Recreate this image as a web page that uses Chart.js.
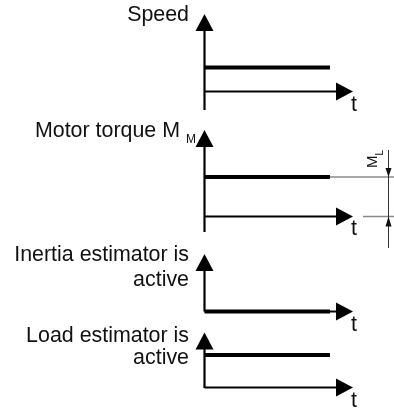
<!DOCTYPE html>
<html>
<head>
<meta charset="utf-8">
<title>Estimator activity</title>
<script src="https://cdn.jsdelivr.net/npm/chart.js@4.4.1/dist/chart.umd.min.js"></script>
<style>
  body { margin: 0; background: #fff; }
  #wrap {
    position: relative; width: 394px; height: 409px; overflow: hidden;
    font-family: "Liberation Sans", Arial, sans-serif; color: #111;
  }
  #wrap canvas { position: absolute; left: 0; top: 0; }
  .lbl { position: absolute; font-size: 21.4px; line-height: 21px; white-space: nowrap; }
  .rt { right: 205px; text-align: right; }
  .t { left: 351px; }
  .sub { font-size: 12px; margin-left: 6px; position: relative; top: 6px; }
  #ml {
    position: absolute; left: 364px; top: 168px; font-size: 15px; line-height: 15px;
    white-space: nowrap; transform-origin: 0 0; transform: rotate(-90deg);
  }
  #ml span { font-size: 10px; position: relative; top: 6px; }
</style>
</head>
<body>

<div id="wrap">
  <canvas id="chart" width="394" height="409"></canvas>

  <!-- panel titles -->
  <div class="lbl rt" style="top:4px">Speed</div>
  <div class="lbl" style="top:120px; right:198px">Motor torque M<span class="sub">M</span></div>
  <div class="lbl rt" style="top:244px">Inertia estimator is</div>
  <div class="lbl rt" style="top:269px">active</div>
  <div class="lbl rt" style="top:325px">Load estimator is</div>
  <div class="lbl rt" style="top:347px">active</div>

  <!-- time axis names -->
  <div class="lbl t" style="top:94px">t</div>
  <div class="lbl t" style="top:218px">t</div>
  <div class="lbl t" style="top:314px">t</div>
  <div class="lbl t" style="top:390px">t</div>

  <div id="ml">M<span>L</span></div>
</div>

<script>
// ===============================
// Signal traces (normalised levels)
// ===============================
const timePoints = [0, 10];
const speedTrace = [1, 1];
const torqueTrace = [1, 1];    // motor torque sits at the load torque M_L
const inertiaTrace = [0, 0];   // inertia estimator stays off
const loadTrace = [1, 1];      // load estimator stays on

// ===============================
// Layout of the four stacked panels
// ===============================
const W = 394, H = 409;
const axisX = 204.5, arrowTipX = 353;
const headLen = 17, headHalf = 9;

const panels = [
  { axis: 'ySpeed',   data: speedTrace,   zeroY: 91.5,  oneY: 67.5,  topY: 14,    bottomY: 110 },
  { axis: 'yTorque',  data: torqueTrace,  zeroY: 216.5, oneY: 177,   topY: 130,   bottomY: 232 },
  { axis: 'yInertia', data: inertiaTrace, zeroY: 311.5, oneY: 287,   topY: 254,   bottomY: 311.5 },
  { axis: 'yLoad',    data: loadTrace,    zeroY: 387.5, oneY: 355,   topY: 332.5, bottomY: 388 }
];

const scales = {
  x: { type: 'linear', display: false, min: 0, max: 10 * (arrowTipX - axisX) / (330 - axisX) }
};
panels.forEach(p => {
  const unit = p.zeroY - p.oneY;
  scales[p.axis] = {
    type: 'linear', display: false, position: 'left',
    min: -(H - p.zeroY) / unit, max: p.zeroY / unit
  };
});

// arrowed axes for every panel
const arrowAxes = {
  id: 'arrowAxes',
  beforeDatasetsDraw(chart) {
    const ctx = chart.ctx;
    const x0 = chart.scales.x.getPixelForValue(0);
    const xEnd = chart.scales.x.right;
    ctx.save();
    ctx.strokeStyle = '#000';
    ctx.fillStyle = '#000';
    ctx.lineWidth = 2.2;
    panels.forEach(p => {
      const y0 = chart.scales[p.axis].getPixelForValue(0);
      ctx.beginPath();
      ctx.moveTo(x0, p.bottomY);
      ctx.lineTo(x0, p.topY + headLen - 1);
      ctx.moveTo(x0, y0);
      ctx.lineTo(xEnd - headLen + 1, y0);
      ctx.stroke();

      ctx.beginPath();
      ctx.moveTo(x0, p.topY);
      ctx.lineTo(x0 + headHalf, p.topY + headLen);
      ctx.lineTo(x0 - headHalf, p.topY + headLen);
      ctx.closePath();
      ctx.fill();

      ctx.beginPath();
      ctx.moveTo(xEnd, y0);
      ctx.lineTo(xEnd - headLen, y0 - headHalf);
      ctx.lineTo(xEnd - headLen, y0 + headHalf);
      ctx.closePath();
      ctx.fill();
    });
    ctx.restore();
  },
  // dimension for the load torque M_L
  afterDatasetsDraw(chart) {
    const ctx = chart.ctx;
    const ys = chart.scales.yTorque;
    const yTop = ys.getPixelForValue(torqueTrace[torqueTrace.length - 1]);
    const yBot = ys.getPixelForValue(0);
    const xLineEnd = chart.scales.x.getPixelForValue(timePoints[timePoints.length - 1]);
    const xd = 388.5;
    ctx.save();
    ctx.strokeStyle = '#8a8a8a';
    ctx.lineWidth = 1.5;
    ctx.beginPath();
    ctx.moveTo(xLineEnd, yTop);
    ctx.lineTo(W, yTop);
    ctx.moveTo(363, yBot);
    ctx.lineTo(W, yBot);
    ctx.stroke();

    ctx.strokeStyle = '#333';
    ctx.lineWidth = 1;
    ctx.beginPath();
    ctx.moveTo(xd, 150);
    ctx.lineTo(xd, 248);
    ctx.stroke();

    ctx.fillStyle = '#111';
    ctx.beginPath();
    ctx.moveTo(xd, yTop);
    ctx.lineTo(xd - 3, yTop - 9);
    ctx.lineTo(xd + 3, yTop - 9);
    ctx.closePath();
    ctx.fill();
    ctx.beginPath();
    ctx.moveTo(xd, yBot);
    ctx.lineTo(xd - 3, yBot + 10);
    ctx.lineTo(xd + 3, yBot + 10);
    ctx.closePath();
    ctx.fill();
    ctx.restore();
  }
};

new Chart(document.getElementById('chart'), {
  type: 'line',
  data: {
    datasets: panels.map(p => ({
      data: timePoints.map((t, i) => ({ x: t, y: p.data[i] })),
      yAxisID: p.axis,
      borderColor: '#000',
      borderWidth: 4,
      borderCapStyle: 'butt',
      pointRadius: 0,
      tension: 0,
      fill: false,
      clip: false
    }))
  },
  options: {
    responsive: false,
    animation: false,
    devicePixelRatio: 1,
    layout: { padding: { left: axisX, right: W - arrowTipX, top: 0, bottom: 0 } },
    plugins: { legend: { display: false }, tooltip: { enabled: false } },
    scales: scales
  },
  plugins: [arrowAxes]
});
</script>

</body>
</html>
